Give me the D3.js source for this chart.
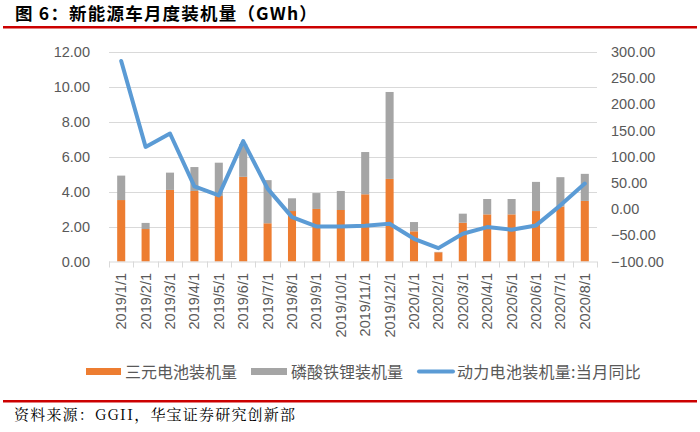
<!DOCTYPE html>
<html><head><meta charset="utf-8">
<script src="https://cdn.jsdelivr.net/npm/d3@7"></script>
<style>
html,body{margin:0;padding:0;background:#fff;}
svg{display:block;}
</style></head>
<body>
<svg id="c" width="700" height="432"></svg>
<script>
const categories = ["2019/1/1","2019/2/1","2019/3/1","2019/4/1","2019/5/1","2019/6/1","2019/7/1","2019/8/1","2019/9/1","2019/10/1","2019/11/1","2019/12/1","2020/1/1","2020/2/1","2020/3/1","2020/4/1","2020/5/1","2020/6/1","2020/7/1","2020/8/1"];
const ncm = [3.52,1.86,4.10,4.04,3.75,4.85,2.19,2.89,3.01,2.95,3.85,4.73,1.73,0.53,2.22,2.70,2.70,2.89,3.15,3.47];
const lfp = [1.40,0.35,0.99,1.37,1.91,1.87,2.47,0.73,0.91,1.09,2.42,4.98,0.53,0.02,0.52,0.88,0.88,1.67,1.68,1.55];
const yoy = [282.8,118.8,144.4,43.5,26.3,129.7,39.1,-15.2,-33.0,-33.0,-31.7,-27.9,-56.6,-74.5,-47.0,-34.3,-39.4,-31.1,7.2,48.7];
const leftTicks = [0,2,4,6,8,10,12];
const rightTicks = [-100,-50,0,50,100,150,200,250,300];
const seriesNames = ["三元电池装机量","磷酸铁锂装机量","动力电池装机量:当月同比"];
const title = "图 6：新能源车月度装机量（GWh）";
const source = "资料来源：GGII，华宝证券研究创新部";

const svg = d3.select("#c");
const FONT = "'Liberation Sans','Noto Sans CJK SC',sans-serif";
const CJK = "'Noto Sans CJK SC',sans-serif";
const x0 = 109, x1 = 597, yTop = 52, yBot = 261.5;

const x = d3.scaleBand().domain(categories).range([x0, x1]).paddingInner(0.67).paddingOuter(0.335);
const xb = d3.scaleBand().domain(categories).range([x0, x1]);
const yL = d3.scaleLinear().domain([0,12]).range([yBot, yTop]);
const yR = d3.scaleLinear().domain([-100,300]).range([yBot, yTop]);

// title
svg.append("text").attr("x",15).attr("y",20).attr("font-family",CJK).attr("font-weight","bold")
  .attr("font-size","17.5px").attr("letter-spacing","1.2px").attr("fill","#000").text(title);
svg.append("line").attr("x1",3).attr("x2",697).attr("y1",27.3).attr("y2",27.3).attr("stroke","#CC0000").attr("stroke-width",2.6);

// gridlines
svg.append("g").selectAll("line").data(leftTicks.filter(d=>d>0)).join("line")
  .attr("x1",x0).attr("x2",x1).attr("y1",d=>Math.round(yL(d))+0.5).attr("y2",d=>Math.round(yL(d))+0.5)
  .attr("stroke","#D9D9D9").attr("stroke-width",1);

// left axis labels
svg.append("g").selectAll("text").data(leftTicks).join("text")
  .attr("x",90).attr("y",d=>yL(d)+5).attr("text-anchor","end")
  .attr("font-family",FONT).attr("font-size","14.5px").attr("fill","#595959")
  .text(d=>d3.format(".2f")(d));
// right axis labels
svg.append("g").selectAll("text").data(rightTicks).join("text")
  .attr("x",611).attr("y",d=>yR(d)+5).attr("text-anchor","start")
  .attr("font-family",FONT).attr("font-size","14.5px").attr("fill","#595959")
  .text(d=>d3.format(".2f")(d));

// bars
const stacked = categories.map((c,i)=>({c, a:ncm[i], b:lfp[i]}));
svg.append("g").selectAll("rect").data(stacked).join("rect")
  .attr("x",d=>x(d.c)).attr("width",x.bandwidth())
  .attr("y",d=>yL(d.a)).attr("height",d=>yL(0)-yL(d.a)).attr("fill","#ED7D31");
svg.append("g").selectAll("rect").data(stacked).join("rect")
  .attr("x",d=>x(d.c)).attr("width",x.bandwidth())
  .attr("y",d=>yL(d.a+d.b)).attr("height",d=>yL(d.a)-yL(d.a+d.b)).attr("fill","#A5A5A5");

// x axis line & ticks
svg.append("line").attr("x1",x0).attr("x2",x1).attr("y1",yBot+0.5).attr("y2",yBot+0.5).attr("stroke","#D9D9D9");
svg.append("g").selectAll("line").data(categories.concat(["__end"])).join("line")
  .attr("x1",(d,i)=>Math.round(x0+i*xb.step())+0.5).attr("x2",(d,i)=>Math.round(x0+i*xb.step())+0.5)
  .attr("y1",yBot).attr("y2",yBot+6).attr("stroke","#D9D9D9");

// x labels
svg.append("g").selectAll("text").data(categories).join("text")
  .attr("transform",d=>`translate(${xb(d)+xb.bandwidth()/2+5},273) rotate(-90)`)
  .attr("text-anchor","end").attr("font-family",FONT).attr("font-size","14.5px").attr("fill","#595959")
  .text(d=>d);

// line
const line = d3.line().x((d,i)=>xb(categories[i])+xb.bandwidth()/2).y(d=>yR(d));
svg.append("path").datum(yoy).attr("d",line).attr("fill","none").attr("stroke","#5B9BD5")
  .attr("stroke-width",4).attr("stroke-linejoin","round").attr("stroke-linecap","round");

// legend
const lg = svg.append("g").attr("font-family",CJK).attr("font-size","16px").attr("fill","#595959");
lg.append("rect").attr("x",86).attr("y",368).attr("width",35).attr("height",7).attr("fill","#ED7D31");
lg.append("text").attr("x",125).attr("y",377.5).text(seriesNames[0]);
lg.append("rect").attr("x",251).attr("y",368).attr("width",36).attr("height",7).attr("fill","#A5A5A5");
lg.append("text").attr("x",291).attr("y",377.5).text(seriesNames[1]);
lg.append("line").attr("x1",419).attr("x2",453).attr("y1",371.5).attr("y2",371.5).attr("stroke","#5B9BD5").attr("stroke-width",4).attr("stroke-linecap","round");
lg.append("text").attr("x",457).attr("y",377.5).attr("letter-spacing","0.3px").text(seriesNames[2]);

// footer
svg.append("line").attr("x1",3).attr("x2",697).attr("y1",401.3).attr("y2",401.3).attr("stroke","#CC0000").attr("stroke-width",2.4);
svg.append("text").attr("x",14).attr("y",420).attr("font-family","'Noto Serif CJK SC','Noto Sans CJK SC',serif")
  .attr("font-size","15px").attr("letter-spacing","1.2px").attr("fill","#000").text(source);
</script>
</body></html>
